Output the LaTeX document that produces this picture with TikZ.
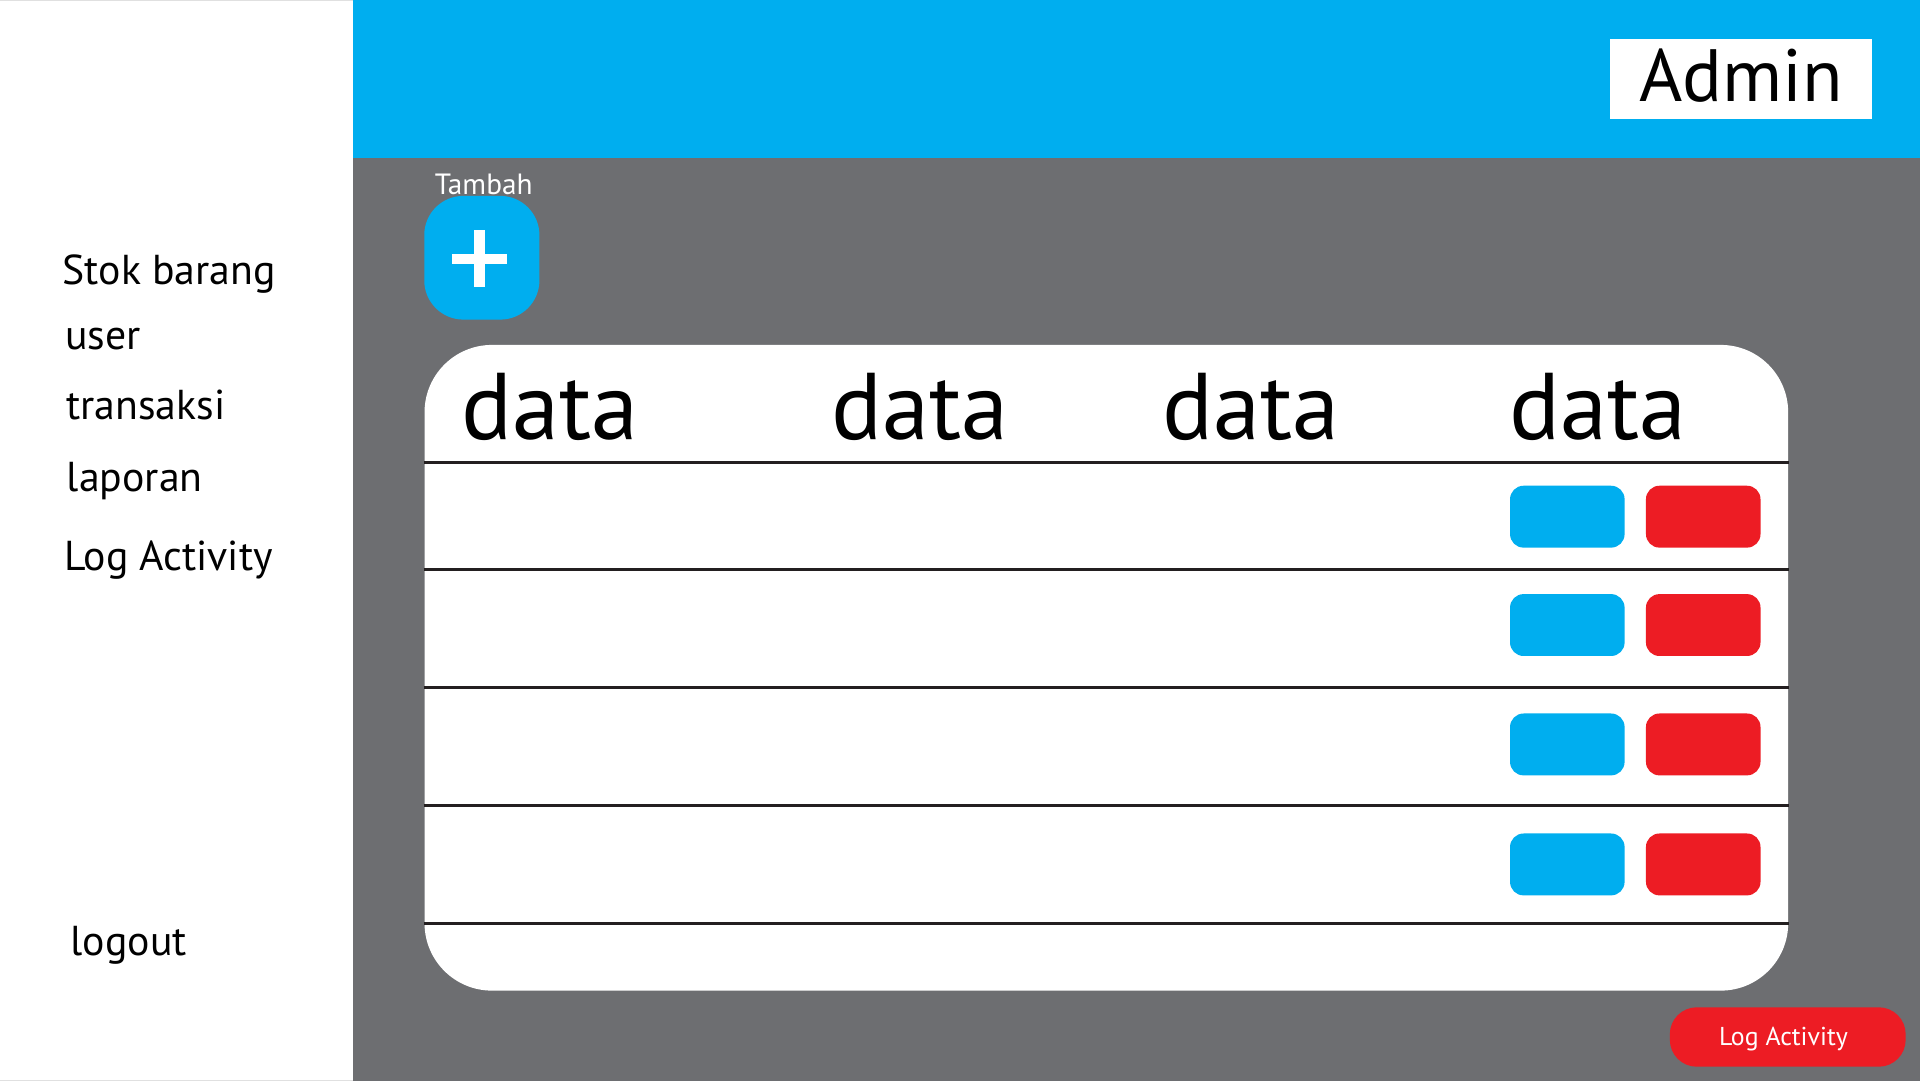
\documentclass[tikz,border=0pt]{standalone}
\usepackage{fontspec}
\setmainfont{PT Sans}
\definecolor{cyanbar}{HTML}{00AEEF}
\definecolor{panelgray}{HTML}{6D6E71}
\definecolor{btnred}{HTML}{ED1C24}
\definecolor{linedark}{HTML}{231F20}
\tikzset{
  menu/.style={anchor=base west, inner sep=0pt, font=\fontsize{9.7}{11}\selectfont},
  colhead/.style={anchor=base west, inner sep=0pt, font=\fontsize{22}{26}\selectfont},
  rowline/.style={line width=0.027cm, linedark},
  editbtn/.style={fill=cyanbar, rounded corners=0.11cm, minimum width=0.935cm, minimum height=0.505cm, inner sep=0pt, anchor=north west},
  delbtn/.style={editbtn, fill=btnred},
}
\begin{document}
\begin{tikzpicture}[x=0.01cm, y=-0.01cm]
	\useasboundingbox (0,0) rectangle (1568,883);
	%layout
	\fill[white] (0,0) rectangle (1568,883);
	\fill[panelgray] (288,129) rectangle (1568,883);
	\fill[cyanbar] (288,0) rectangle (1568,129);
	\draw[black!12, line width=0.01cm] (0,0.5) -- (288,0.5);
	\draw[black!12, line width=0.01cm] (0,882.5) -- (288,882.5);
	%header
	\node[fill=white, minimum width=2.14cm, minimum height=0.654cm, inner sep=0pt, text height=0.36cm, text depth=0cm, font=\fontsize{17.2}{20}\selectfont] (admin) at (1421.9,64.5) {Admin};
	%tambah
	\node[fill=cyanbar, rounded corners=0.32cm, minimum width=0.94cm, minimum height=1.01cm, inner sep=0pt] (addbtn) at (393.5,210.5) {};
	\draw[white, line width=0.087cm] ([shift={(-24.5,1)}]addbtn.center) -- ([shift={(20.5,1)}]addbtn.center);
	\draw[white, line width=0.087cm] ([shift={(-2,-22.5)}]addbtn.center) -- ([shift={(-2,23.5)}]addbtn.center);
	\node[anchor=base, inner sep=0pt, text=white, font=\fontsize{6.8}{8}\selectfont] (tambah) at (395,159) {Tambah};
	%table
	\node[fill=white, rounded corners=0.55cm, minimum width=11.13cm, minimum height=5.27cm, inner sep=0pt, anchor=north west] (tbl) at (346,281) {};
	\foreach \x [count=\i] in {376,678,949,1232}
		\node[colhead] (col\i) at (\x,359.3) {data};
	\foreach \y in {377.7,465,561.6,658,754}
		\draw[rowline] (tbl.west |- 0,\y) -- (tbl.east |- 0,\y);
	\foreach \y [count=\i] in {396,484.5,582,680} {
		\node[editbtn] (edit\i) at (1232.5,\y) {};
		\node[delbtn] (del\i) at (1343.5,\y) {};
	}
	%sidebar
	\node[menu] (stok) at (50.5,232.7) {Stok barang};
	\node[menu] (user) at (52.5,285.8) {user};
	\node[menu] (trans) at (53.5,343) {transaksi};
	\node[menu] (lap) at (54,401.5) {laporan};
	\node[menu] (log) at (52,466) {Log Activity};
	\node[menu] (logout) at (57,780.7) {logout};
	%log button
	\node[fill=btnred, rounded corners=0.22cm, minimum width=1.925cm, minimum height=0.485cm, inner sep=0pt, text=white, text height=0.146cm, text depth=0cm, font=\fontsize{6}{7}\selectfont] (logbtn) at (1460,846.9) {\hspace*{-0.07cm}Log Activity};
\end{tikzpicture}
\end{document}
